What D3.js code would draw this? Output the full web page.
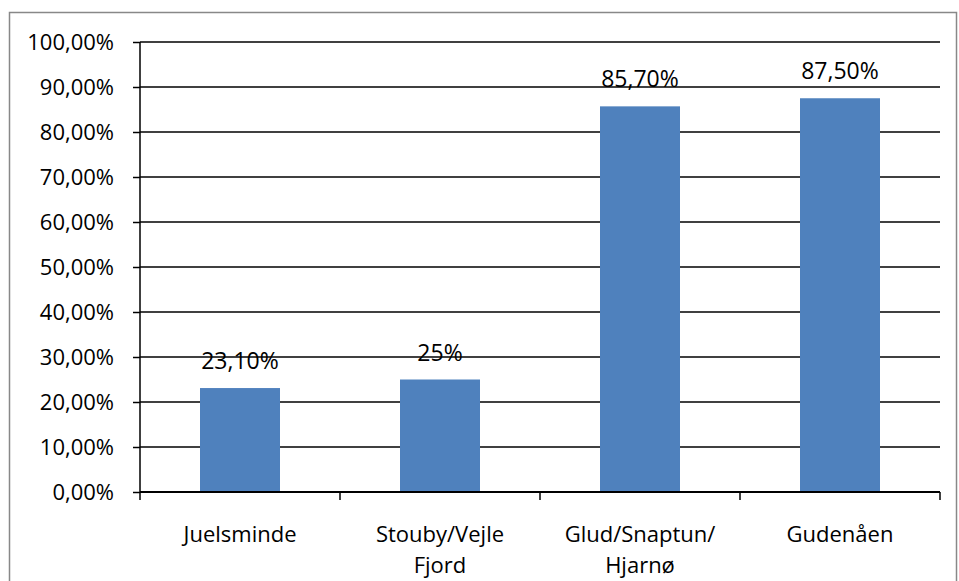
<!DOCTYPE html>
<html>
<head>
<meta charset="utf-8">
<script src="https://cdn.jsdelivr.net/npm/d3@7"></script>
<style>
  body { margin: 0; background: #fff; }
  text { font-family: "Open Sans", "Noto Sans", sans-serif; fill: #000; }
</style>
</head>
<body>
<div class="chart"></div>
<script>
var categories = [["Juelsminde"], ["Stouby/Vejle", "Fjord"], ["Glud/Snaptun/", "Hjarnø"], ["Gudenåen"]];
var values = [0.231, 0.25, 0.857, 0.875];
var valueLabels = ["23,10%", "25%", "85,70%", "87,50%"];
var yTicks = [0, 0.1, 0.2, 0.3, 0.4, 0.5, 0.6, 0.7, 0.8, 0.9, 1.0];

var W = 959, H = 581;
var margin = {top: 42, right: 19, bottom: 89, left: 140};
var width = W - margin.left - margin.right,
    height = H - margin.top - margin.bottom;

var svg = d3.select(".chart").append("svg")
    .attr("width", W)
    .attr("height", H);

// outer frame
svg.append("rect")
    .attr("x", 9.5).attr("y", 12.5)
    .attr("width", 947).attr("height", 580)
    .attr("fill", "none")
    .attr("stroke", "#888")
    .attr("stroke-width", 1.5);

var g = svg.append("g")
    .attr("transform", "translate(" + margin.left + "," + margin.top + ")");

var x = d3.scaleBand()
    .domain(d3.range(categories.length))
    .range([0, width])
    .paddingInner(0.6)
    .paddingOuter(0.3);

var y = d3.scaleLinear()
    .domain([0, 1])
    .range([height, 0]);

var fmt = function(d) { return d3.format(".2f")(d * 100).replace(".", ",") + "%"; };

// gridlines
g.selectAll(".grid")
    .data(yTicks)
    .enter().append("line")
    .attr("x1", 0).attr("x2", width)
    .attr("y1", function(d) { return y(d); })
    .attr("y2", function(d) { return y(d); })
    .attr("stroke", "#000")
    .attr("stroke-width", 1.5);

// bars
g.selectAll(".bar")
    .data(values)
    .enter().append("rect")
    .attr("x", function(d, i) { return x(i); })
    .attr("y", function(d) { return y(d); })
    .attr("width", x.bandwidth())
    .attr("height", function(d) { return height - y(d); })
    .attr("fill", "#4F81BD");

// value labels
g.selectAll(".vlabel")
    .data(values)
    .enter().append("text")
    .attr("x", function(d, i) { return x(i) + x.bandwidth() / 2; })
    .attr("y", function(d) { return y(d) - 19; })
    .attr("text-anchor", "middle")
    .style("font-size", "23px")
    .text(function(d, i) { return valueLabels[i]; });

// y axis
var yAxis = d3.axisLeft(y).tickValues(yTicks).tickSize(7).tickPadding(19).tickFormat(fmt);
var ya = g.append("g").call(yAxis);
ya.select(".domain").attr("stroke", "#000").attr("stroke-width", 1.5).attr("d", "M0," + height + "V0");
ya.selectAll(".tick line").attr("stroke-width", 1.5);
ya.selectAll("text").style("font-size", "22px").style("font-family", "'Open Sans', sans-serif").attr("fill", "#000");

// x axis line + ticks between categories
var step = width / categories.length;
g.append("line")
    .attr("x1", 0).attr("x2", width)
    .attr("y1", height).attr("y2", height)
    .attr("stroke", "#000").attr("stroke-width", 2);
g.selectAll(".xtick")
    .data(d3.range(categories.length + 1))
    .enter().append("line")
    .attr("x1", function(d) { return d * step; })
    .attr("x2", function(d) { return d * step; })
    .attr("y1", height).attr("y2", height + 8)
    .attr("stroke", "#000").attr("stroke-width", 1.5);

// category labels
var cl = g.selectAll(".clabel")
    .data(categories)
    .enter().append("text")
    .attr("text-anchor", "middle")
    .attr("transform", function(d, i) { return "translate(" + (x(i) + x.bandwidth() / 2) + "," + (height + 50) + ")"; })
    .style("font-size", "22px");
cl.selectAll("tspan")
    .data(function(d) { return d; })
    .enter().append("tspan")
    .attr("x", 0)
    .attr("dy", function(d, i) { return i ? 31 : 0; })
    .text(function(d) { return d; });
</script>
</body>
</html>
